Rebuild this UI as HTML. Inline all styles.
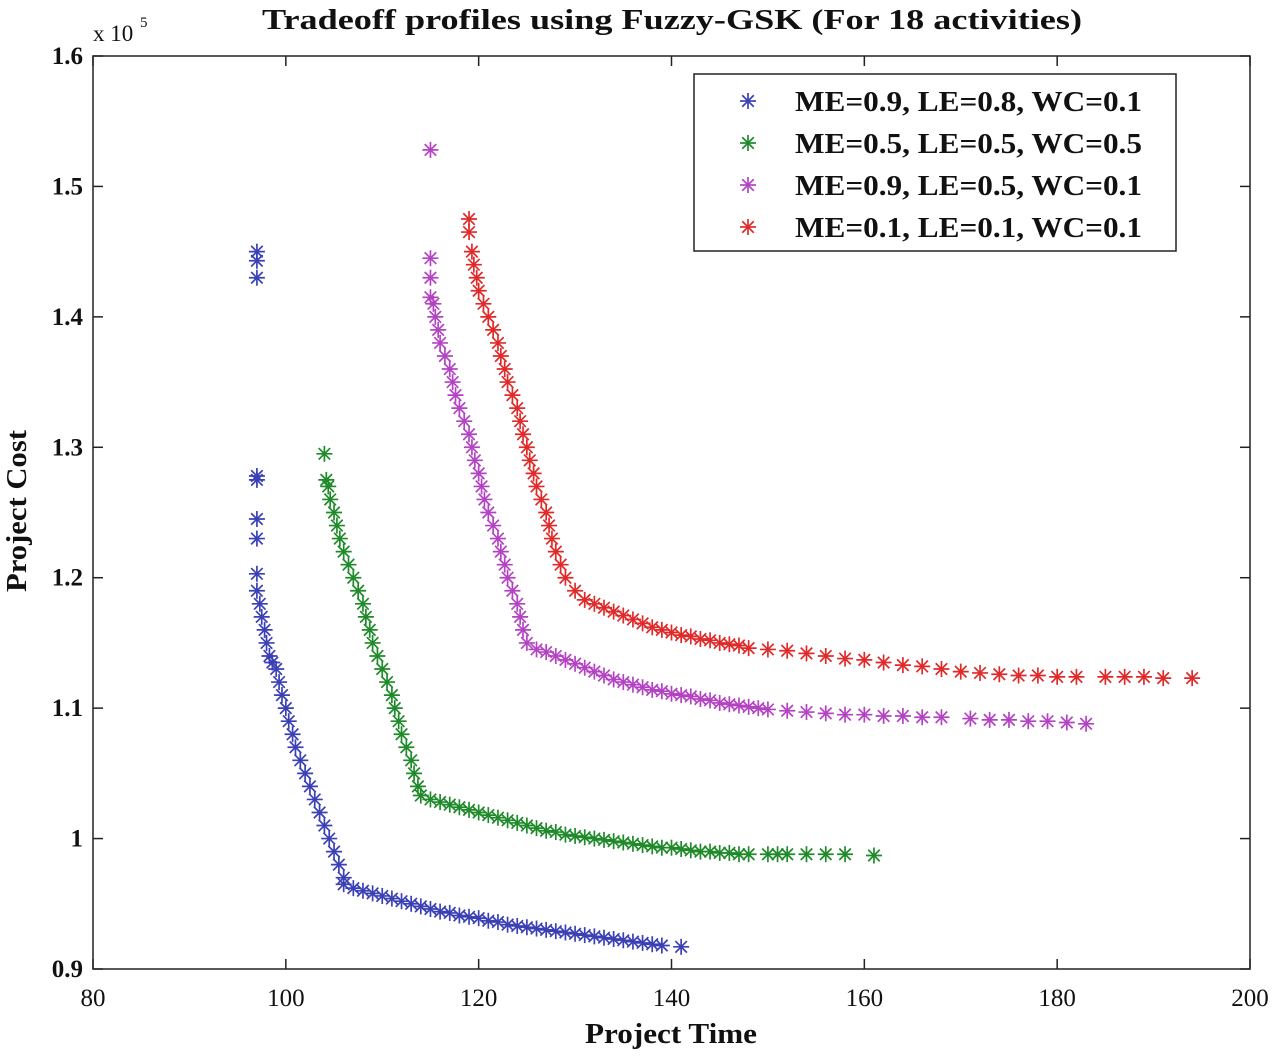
<!DOCTYPE html>
<html><head><meta charset="utf-8"><style>
html,body{margin:0;padding:0;background:#fff;width:1280px;height:1056px;overflow:hidden}
svg text{font-family:"Liberation Serif",serif;fill:#111}
</style></head><body>
<svg id="chart" width="1280" height="1056" xmlns="http://www.w3.org/2000/svg"></svg>
<script>
const xTicks=[80,100,120,140,160,180,200];
const yTicks=[0.9,1,1.1,1.2,1.3,1.4,1.5,1.6];
const seriesNames=["ME=0.9, LE=0.8, WC=0.1","ME=0.5, LE=0.5, WC=0.5","ME=0.9, LE=0.5, WC=0.1","ME=0.1, LE=0.1, WC=0.1"];
const seriesColors=["#3b40b5","#1f8a2a","#b443c4","#e02a2a"];
const blueT=[97,97,97,97,97,97,97,97,97,97.3,97.5,97.8,98,98.3,98.6,99,99.3,99.6,100,100.3,100.7,101,101.5,102,102.5,103,103.5,104,104.5,105,105.5,106,106,107,108,109,110,111,112,113,114,115,116,117,118,119,120,121,122,123,124,125,126,127,128,129,130,131,132,133,134,135,136,137,138,139,141];
const blueC=[1.45,1.443,1.43,1.278,1.275,1.245,1.23,1.203,1.19,1.18,1.17,1.16,1.15,1.14,1.135,1.13,1.12,1.11,1.10,1.09,1.08,1.07,1.06,1.05,1.04,1.03,1.02,1.01,1.0,0.99,0.98,0.97,0.965,0.962,0.96,0.958,0.956,0.954,0.952,0.95,0.948,0.946,0.944,0.943,0.941,0.94,0.939,0.937,0.936,0.934,0.933,0.932,0.931,0.93,0.929,0.928,0.927,0.926,0.925,0.924,0.923,0.922,0.921,0.92,0.919,0.918,0.917];
const greenT=[104,104.2,104.4,104.6,105,105.3,105.6,106,106.5,107,107.5,108,108.3,108.7,109,109.5,110,110.5,111,111.3,111.7,112,112.5,113,113.3,113.7,114,115,116,117,118,119,120,121,122,123,124,125,126,127,128,129,130,131,132,133,134,135,136,137,138,139,140,141,142,143,144,145,146,147,148,150,151,152,154,156,158,161];
const greenC=[1.295,1.275,1.27,1.26,1.25,1.24,1.23,1.22,1.21,1.2,1.19,1.18,1.17,1.16,1.15,1.14,1.13,1.12,1.11,1.1,1.09,1.08,1.07,1.06,1.05,1.04,1.033,1.03,1.028,1.026,1.024,1.022,1.02,1.018,1.016,1.014,1.012,1.01,1.008,1.006,1.005,1.003,1.002,1.001,1.0,0.999,0.998,0.997,0.996,0.995,0.994,0.993,0.993,0.992,0.991,0.99,0.99,0.989,0.989,0.988,0.988,0.988,0.988,0.988,0.988,0.988,0.988,0.987];
const magT=[115,115,115,115,115.3,115.5,115.8,116,116.5,117,117.3,117.6,118,118.5,119,119.3,119.6,120,120.3,120.6,121,121.5,122,122.3,122.7,123,123.5,124,124.3,124.6,125,126,127,128,129,130,131,132,133,134,135,136,137,138,139,140,141,142,143,144,145,146,147,148,149,150,152,154,156,158,160,162,164,166,168,171,173,175,177,179,181,183];
const magC=[1.528,1.445,1.43,1.415,1.41,1.4,1.39,1.38,1.37,1.36,1.35,1.34,1.33,1.32,1.31,1.3,1.29,1.28,1.27,1.26,1.25,1.24,1.23,1.22,1.21,1.2,1.19,1.18,1.17,1.16,1.15,1.145,1.143,1.14,1.137,1.134,1.131,1.128,1.125,1.122,1.12,1.118,1.116,1.114,1.113,1.111,1.11,1.109,1.107,1.106,1.104,1.103,1.102,1.101,1.1,1.099,1.098,1.097,1.096,1.095,1.095,1.094,1.094,1.093,1.093,1.092,1.091,1.091,1.09,1.09,1.089,1.088];
const redT=[119,119,119.3,119.5,119.8,120,120.5,121,121.5,122,122.3,122.7,123,123.5,124,124.3,124.6,125,125.3,125.7,126,126.5,127,127.3,127.6,128,128.5,129,130,131,132,133,134,135,136,137,138,139,140,141,142,143,144,145,146,147,148,150,152,154,156,158,160,162,164,166,168,170,172,174,176,178,180,182,185,187,189,191,194];
const redC=[1.475,1.465,1.45,1.44,1.43,1.42,1.41,1.4,1.39,1.38,1.37,1.36,1.35,1.34,1.33,1.32,1.31,1.3,1.29,1.28,1.27,1.26,1.25,1.24,1.23,1.22,1.21,1.2,1.19,1.183,1.18,1.177,1.174,1.171,1.168,1.165,1.162,1.16,1.158,1.156,1.155,1.153,1.152,1.15,1.149,1.148,1.146,1.145,1.144,1.142,1.14,1.138,1.137,1.135,1.133,1.132,1.13,1.128,1.127,1.126,1.125,1.125,1.124,1.124,1.124,1.124,1.124,1.123,1.123];

const NS="http://www.w3.org/2000/svg";
const svg=document.getElementById('chart');
const L=93,R=1250,T=56,B=969;
const xs=v=>L+(v-80)/120*(R-L);
const ys=v=>B-(v-0.9)/0.7*(B-T);
function mk(tag,attrs,parent){const e=document.createElementNS(NS,tag);for(const k in attrs)e.setAttribute(k,attrs[k]);(parent||svg).appendChild(e);return e;}

const frame=mk('rect',{x:L,y:T,width:R-L,height:B-T,fill:'none',stroke:'#222','stroke-width':1.5});



xTicks.forEach(v=>{const x=xs(v);
 mk('line',{x1:x,y1:B,x2:x,y2:B-10,stroke:'#222','stroke-width':1.5});
 mk('line',{x1:x,y1:T,x2:x,y2:T+10,stroke:'#222','stroke-width':1.5});
 const t=mk('text',{x:x,y:1006,'text-anchor':'middle','font-size':25});t.textContent=v;
 
 
});
yTicks.forEach(v=>{const y=ys(v);
 mk('line',{x1:L,y1:y,x2:L+10,y2:y,stroke:'#222','stroke-width':1.5});
 mk('line',{x1:R,y1:y,x2:R-10,y2:y,stroke:'#222','stroke-width':1.5});
 const t=mk('text',{x:83,y:y+8,'text-anchor':'end','font-size':25,'font-weight':'bold'});t.textContent=(v===1?'1':v.toFixed(1));
 
 
});

function star(x,y,c,g,s){
 const w=1.7;
 mk('line',{x1:x-s,y1:y,x2:x+s,y2:y,stroke:c,'stroke-width':w},g);
 mk('line',{x1:x,y1:y-s,x2:x,y2:y+s,stroke:c,'stroke-width':w},g);
 const d=s*0.72;
 mk('line',{x1:x-d,y1:y-d,x2:x+d,y2:y+d,stroke:c,'stroke-width':w},g);
 mk('line',{x1:x-d,y1:y+d,x2:x+d,y2:y-d,stroke:c,'stroke-width':w},g);
}
const allT=[blueT,greenT,magT,redT],allC=[blueC,greenC,magC,redC];
const sn=['series-blue','series-green','series-magenta','series-red'];
allT.forEach((ts,i)=>{const g=mk('g',{});
 
 
 ts.forEach((t,j)=>star(xs(t),ys(allC[i][j]),seriesColors[i],g,8));
});

const lg=mk('g',{});


mk('rect',{x:694,y:74,width:482,height:177,fill:'#fff',stroke:'#222','stroke-width':1.5},lg);
seriesNames.forEach((n,i)=>{const y=101+i*42;
 const e=mk('g',{},lg);
 
 
 star(748,y,seriesColors[i],e,8);
 const t=mk('text',{x:795,y:y+10,'font-size':28,'font-weight':'bold',textLength:347,lengthAdjust:'spacingAndGlyphs'},e);t.textContent=n;
});

const title=mk('text',{x:262,y:29,'font-size':29,'font-weight':'bold',textLength:820,lengthAdjust:'spacingAndGlyphs'});
title.textContent='Tradeoff profiles using Fuzzy-GSK (For 18 activities)';


const ex=mk('text',{x:93,y:41,'font-size':23});ex.textContent='x 10';


const ex2=mk('text',{x:140,y:27,'font-size':15});ex2.textContent='5';
const xt=mk('text',{x:585,y:1043,'font-size':28,'font-weight':'bold',textLength:172,lengthAdjust:'spacingAndGlyphs'});xt.textContent='Project Time';


const yt=mk('text',{x:-81,y:0,'font-size':28,'font-weight':'bold',textLength:162,lengthAdjust:'spacingAndGlyphs',transform:'translate(26,511) rotate(-90)'});yt.textContent='Project Cost';


</script>
</body></html>
